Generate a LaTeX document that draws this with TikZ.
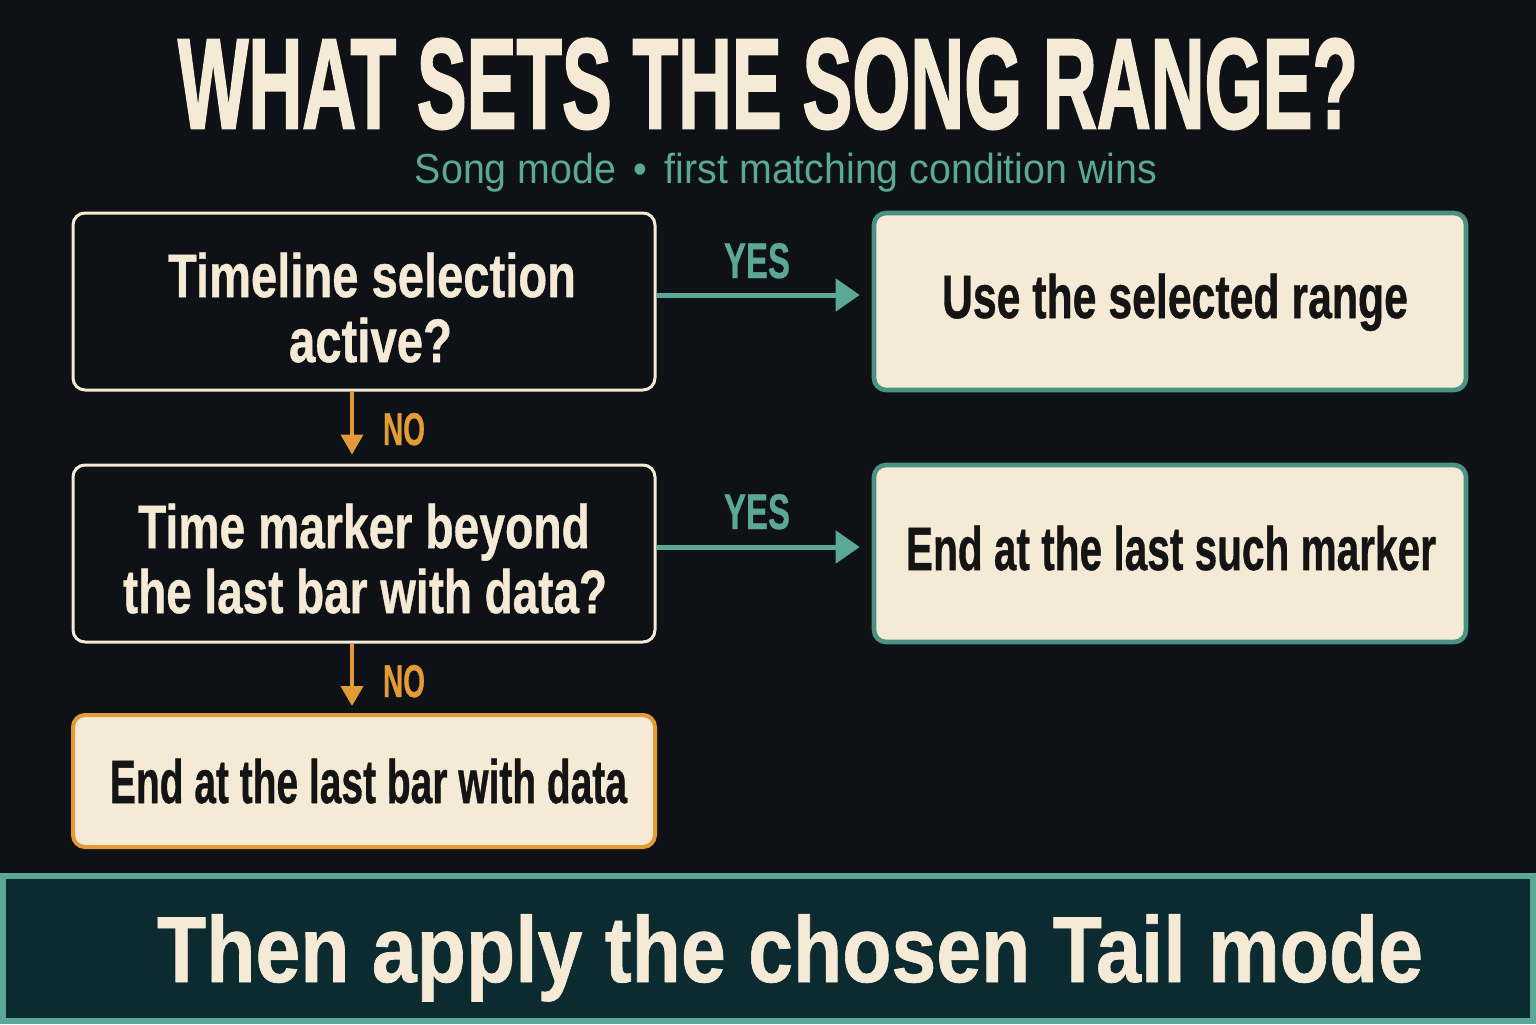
\documentclass[tikz,border=0pt]{standalone}
\usepackage{fontspec}
\usepackage{graphicx}
\setmainfont{Liberation Sans}
\newfontfamily\heavy{Liberation Sans Bold}[FakeBold=2]
\newfontfamily\semiheavy{Liberation Sans Bold}[FakeBold=0.8]
\usetikzlibrary{arrows.meta}
\definecolor{bg}{HTML}{0E1115}
\definecolor{cream}{HTML}{F4EAD6}
\definecolor{teal}{HTML}{5CA898}
\definecolor{tealdk}{HTML}{4A9384}
\definecolor{orange}{HTML}{E39B35}
\definecolor{ink}{HTML}{141414}
\definecolor{bannerfill}{HTML}{0B2B30}
\newcommand\fitw[2]{\resizebox{#1}{\height}{#2}}
\begin{document}
\begin{tikzpicture}[x=0.5pt,y=-0.5pt,
  txt/.style={inner sep=0pt, anchor=base},
  boxfont/.style={font=\fontsize{30.7}{30.7}\selectfont\semiheavy},
  qbox/.style={draw=cream, line width=1.5pt, fill=bg, rounded corners=6pt,
    minimum width=291pt, minimum height=88.5pt, inner sep=0pt},
  abox/.style={draw=tealdk, line width=2.3pt, fill=cream, rounded corners=6pt,
    minimum width=296pt, minimum height=88.5pt, inner sep=0pt},
  obox/.style={draw=orange, line width=2pt, fill=cream, rounded corners=6pt,
    minimum width=291pt, minimum height=66pt, inner sep=0pt},
  yesarrow/.style={draw=teal, line width=2.5pt, -{Triangle[length=12pt,width=16pt]}},
  noarrow/.style={draw=orange, line width=2pt, -{Triangle[length=10pt,width=11pt]}},
  yeslbl/.style={txt, text=teal, font=\fontsize{25}{25}\selectfont\semiheavy},
  nolbl/.style={txt, text=orange, font=\fontsize{23}{23}\selectfont\semiheavy},
  banner/.style={draw=teal, line width=3pt, fill=bannerfill, inner sep=0pt,
    minimum width=765pt, minimum height=72.5pt}
]
\fill[bg] (0,0) rectangle (1536,1024);
\useasboundingbox (0,0) rectangle (1536,1024);

% title
\node[txt, text=cream, font=\fontsize{64}{64}\selectfont\heavy] (title) at (768,128)
  {\fitw{590pt}{WHAT SETS THE SONG RANGE?}};
\node[txt, text=teal, font=\fontsize{21}{21}\selectfont] (subtitle) at (786,183)
  {\fitw{371pt}{Song mode \,•\, first matching condition wins}};

% boxes
\node[qbox] (q1) at (364,301.5) {};
\node[qbox] (q2) at (364,553.5) {};
\node[obox] (e3) at (364,781) {};
\node[abox] (r1) at (1170,301.5) {};
\node[abox] (r2) at (1170,553.5) {};

% box texts
\node[txt, boxfont, text=cream] (q1a) at (372,297) {\fitw{204pt}{Timeline selection}};
\node[txt, boxfont, text=cream] (q1b) at (370.5,362) {\fitw{81.5pt}{active?}};
\node[txt, boxfont, text=cream] (q2a) at (364,548) {\fitw{226pt}{Time marker beyond}};
\node[txt, boxfont, text=cream] (q2b) at (365,613) {\fitw{242pt}{the last bar with data?}};
\node[txt, boxfont, text=ink] (r1t) at (1175,318) {\fitw{233pt}{Use the selected range}};
\node[txt, boxfont, text=ink] (r2t) at (1171,570) {\fitw{265pt}{End at the last such marker}};
\node[txt, boxfont, text=ink] (e3t) at (368.5,803) {\fitw{258.5pt}{End at the last bar with data}};

% connectors
\draw[yesarrow, shorten >=6pt] ([yshift=3.25pt]q1.east) -- ([yshift=3.25pt]r1.west);
\draw[yesarrow, shorten >=6pt] ([yshift=3.25pt]q2.east) -- ([yshift=3.25pt]r2.west);
\draw[noarrow, shorten >=4.5pt] ([xshift=-6pt]q1.south) -- ([xshift=-6pt]q2.north);
\draw[noarrow, shorten >=3.5pt] ([xshift=-6pt]q2.south) -- ([xshift=-6pt]e3.north);

\node[yeslbl] (yes1) at (757,278) {\fitw{33pt}{YES}};
\node[yeslbl] (yes2) at (757,529) {\fitw{33pt}{YES}};
\node[nolbl] (no1) at (404,445) {\fitw{21pt}{NO}};
\node[nolbl] (no2) at (404,697) {\fitw{21pt}{NO}};

% banner
\node[banner] (ban) at (768,948.5) {};
\node[txt, text=cream, font=\fontsize{46.8}{46.8}\selectfont\semiheavy] (bant) at (790,982)
  {\fitw{633pt}{Then apply the chosen Tail mode}};
\end{tikzpicture}
\end{document}
